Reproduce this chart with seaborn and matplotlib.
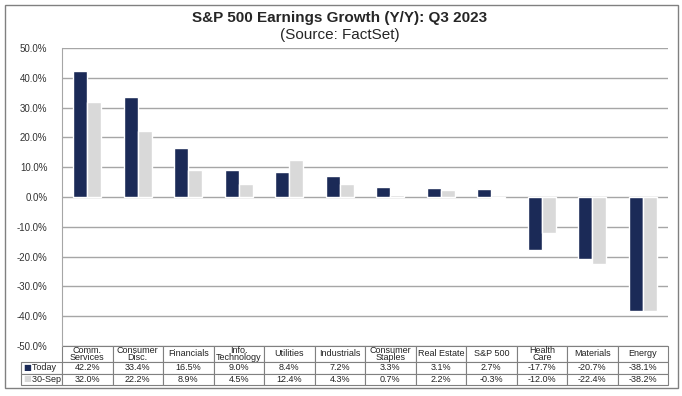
import numpy as np
import pandas as pd
import matplotlib
matplotlib.use('Agg')
import matplotlib.pyplot as plt
from matplotlib.patches import Rectangle
import seaborn as sns

# data
sectors = ['Comm.\nServices', 'Consumer\nDisc.', 'Financials', 'Info.\nTechnology', 'Utilities',
           'Industrials', 'Consumer\nStaples', 'Real Estate', 'S&P 500', 'Health\nCare',
           'Materials', 'Energy']
today = [42.2, 33.4, 16.5, 9.0, 8.4, 7.2, 3.3, 3.1, 2.7, -17.7, -20.7, -38.1]
sep30 = [32.0, 22.2, 8.9, 4.5, 12.4, 4.3, 0.7, 2.2, -0.3, -12.0, -22.4, -38.2]
series = ['Today', '30-Sep']
yticks = np.arange(-50, 51, 10)

navy = '#1B2A57'
lgray = '#D9D9D9'
gridc = '#A6A6A6'

df = pd.DataFrame({'sector': sectors * 2,
                   'series': ['Today'] * len(sectors) + ['30-Sep'] * len(sectors),
                   'value': today + sep30})

sns.set_style('white')
plt.rcParams['font.family'] = ['Liberation Sans', 'DejaVu Sans']

fig = plt.figure(figsize=(6.82, 3.96), dpi=100)
# outer frame
fig.patches.append(Rectangle((5/682, 8/396), 673/682, 383/396, transform=fig.transFigure,
                             fill=False, edgecolor='#808080', linewidth=1))

ax = fig.add_axes([62/682, 50/396, 606/682, 298/396])
sns.barplot(data=df, x='sector', y='value', hue='series', order=sectors, hue_order=series,
            palette={'Today': navy, '30-Sep': lgray}, width=0.56, saturation=1,
            legend=False, ax=ax, zorder=3)

ax.set_xlim(-0.5, len(sectors) - 0.5)
ax.set_ylim(-50, 50)
ax.set_yticks(yticks)
ax.set_yticklabels([f'{v:.1f}%' for v in yticks], fontsize=7, color='#333333')
ax.yaxis.grid(True, color=gridc, linewidth=1, zorder=0)
ax.set_axisbelow(True)
ax.tick_params(axis='x', bottom=False, labelbottom=False)
ax.tick_params(axis='y', left=False, pad=7)
ax.set_xlabel('')
ax.set_ylabel('')
for s in ['top', 'right', 'bottom']:
    ax.spines[s].set_visible(False)
ax.spines['left'].set_color(gridc)

# data table under the bars
cell_text = [['    Today'] + [f'{v:.1f}%' for v in today],
             ['    30-Sep'] + [f'{v:.1f}%' for v in sep30]]
col_labels = [''] + sectors
col_w = [41] + [50.5] * len(sectors)
tab = ax.table(cellText=cell_text, colLabels=col_labels, colWidths=[w / sum(col_w) for w in col_w],
               cellLoc='center', bbox=[-41/606, -39/298, 647/606, 39/298])
tab.auto_set_font_size(False)
tab.set_fontsize(6.5)
for (r, c), cell in tab.get_celld().items():
    cell.set_edgecolor('#808080')
    cell.set_linewidth(0.8)
    cell.set_height(16 if r == 0 else 11.5)
    cell.get_text().set_color('#222222')
    cell.get_text().set_linespacing(0.85)
    if c == 0:
        cell.get_text().set_horizontalalignment('left')
        cell._loc = 'left'
        cell.PAD = 0.02
tab[0, 0].visible_edges = ''

# legend squares in the row labels
ax.text(-39/606, -21.5/298, '■', color=navy, fontsize=6, va='center', ha='left',
        transform=ax.transAxes, family='DejaVu Sans')
ax.text(-39/606, -33/298, '■', color=lgray, fontsize=6, va='center', ha='left',
        transform=ax.transAxes, family='DejaVu Sans')

fig.text(340/682, 1 - 18/396, 'S&P 500 Earnings Growth (Y/Y): Q3 2023', ha='center', va='center',
         fontsize=11, fontweight='bold')
fig.text(340/682, 1 - 35/396, '(Source: FactSet)', ha='center', va='center', fontsize=11)

fig.savefig('out.png', dpi=100)
